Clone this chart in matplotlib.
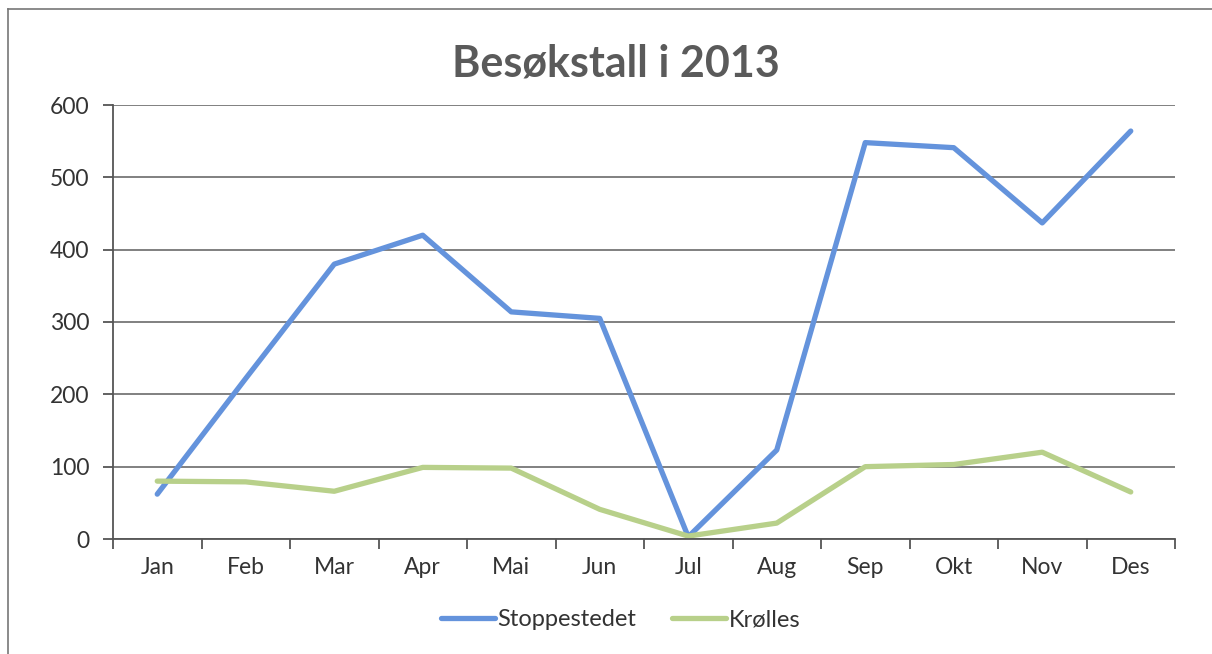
""" Besøkstall i 2013 - line chart of visitors per month. """
from matplotlib import pyplot as plt
from matplotlib.lines import Line2D

# Months and visitor counts.
months = ['Jan', 'Feb', 'Mar', 'Apr', 'Mai', 'Jun',
          'Jul', 'Aug', 'Sep', 'Okt', 'Nov', 'Des']
stoppestedet = [62, 222, 380, 420, 314, 305, 3, 123, 548, 541, 437, 564]
krolles = [80, 79, 66, 99, 98, 41, 4, 22, 100, 103, 120, 65]
y_ticks = [0, 100, 200, 300, 400, 500, 600]

plt.rcParams['font.family'] = ['Lato', 'DejaVu Sans']

fig = plt.figure(figsize=(12.12, 6.54), dpi=100)
ax = fig.add_axes([113 / 1212, 115 / 654, 1062 / 1212, 434 / 654])

x = list(range(len(months)))
ax.plot(x, stoppestedet, color='#6493dc', linewidth=3.8,
        solid_capstyle='round', label='Stoppestedet')
ax.plot(x, krolles, color='#b8d08a', linewidth=3.8,
        solid_capstyle='round', label='Krølles')

ax.set_xlim(-0.5, len(months) - 0.5)
ax.set_ylim(0, 600)
ax.set_yticks(y_ticks)
ax.set_xticks(x)
ax.set_xticklabels(months)
ax.set_xticks([i - 0.5 for i in range(len(months) + 1)], minor=True)
ax.tick_params(axis='x', which='major', length=0, pad=13,
               labelsize=16.5, labelcolor='#333333')
ax.tick_params(axis='x', which='minor', length=7, width=1.3,
               color='#555555', direction='out')
ax.tick_params(axis='y', length=7, width=1.3, color='#555555',
               labelsize=16.5, labelcolor='#333333', pad=10)
ax.yaxis.grid(True, color='#6b6b6b', linewidth=1.2)
ax.set_axisbelow(True)
for side in ['top', 'right']:
    ax.spines[side].set_visible(False)
ax.spines['left'].set_color('#555555')
ax.spines['bottom'].set_color('#555555')
ax.spines['left'].set_linewidth(1.3)
ax.spines['bottom'].set_linewidth(1.3)

fig.text(0.508, 1 - 63 / 654, 'Besøkstall i 2013', ha='center', va='center',
         fontsize=31, fontweight='bold', color='#5a5a5a')

fig.legend(loc='center', bbox_to_anchor=(0.512, 1 - 620 / 654), ncol=2,
           frameon=False, fontsize=17, handlelength=2.3, handletextpad=0.1,
           columnspacing=1.5, labelcolor='#333333')

# Frame of the scanned chart area.
fig.add_artist(Line2D([8 / 1212, 8 / 1212], [0, 1 - 9 / 654],
                      color='#777777', linewidth=1.2))
fig.add_artist(Line2D([8 / 1212, 1.0], [1 - 9 / 654, 1 - 9 / 654],
                      color='#777777', linewidth=1.2))

fig.savefig('out.png', dpi=100)
